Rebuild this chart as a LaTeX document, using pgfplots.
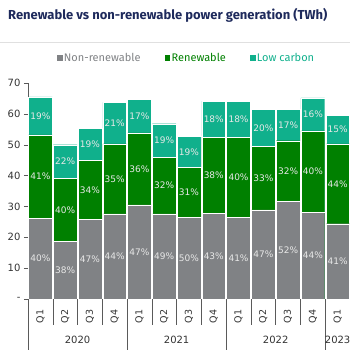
\documentclass[border=0pt]{standalone}
\usepackage{pgfplots}
\usepackage{pgfplotstable}
\pgfplotsset{compat=1.18}
\usepackage{fontspec}
\setmainfont{DejaVu Sans}
\newfontfamily\firafont{Fira Sans}
\definecolor{nonren}{RGB}{128,130,133}
\definecolor{ren}{RGB}{0,128,0}
\definecolor{lowc}{RGB}{16,176,140}
\definecolor{navy}{RGB}{30,42,92}
\definecolor{lbl}{RGB}{232,232,232}
\definecolor{sep}{RGB}{90,90,90}

\pgfplotstableread{
x nr re lc pnr pre plc
0 26.2 27.0 12.3 40 41 19
1 18.6 20.4 11.0 38 40 22
2 25.9 19.0 10.3 47 34 19
3 27.6 22.7 13.4 44 35 21
4 30.5 23.3 10.8 47 36 17
5 27.6 18.4 10.8 49 32 19
6 26.5 16.1 10.1 50 31 19
7 27.8 24.7 11.6 43 38 18
8 26.4 26.1 11.6 41 40 18
9 28.9 20.6 11.9 47 33 20
10 31.6 19.7 10.1 52 32 17
11 28.1 26.4 10.7 44 40 16
12 24.4 25.9 9.2 41 44 15
}\data

\begin{document}
\begin{tikzpicture}[x=1pt,y=1pt]
\path[use as bounding box] (0,0) rectangle (350,350);
\node[anchor=west, font=\firafont\bfseries\fontsize{13}{15}\selectfont, text=navy, inner sep=0pt] at (8,335) {Renewable vs non-renewable power generation (TWh)};
\draw[black!12, line width=0.8pt] (0,308) -- (350,308);
\begin{axis}[
  at={(28pt,51pt)}, anchor=south west, scale only axis,
  width=322pt, height=216pt,
  xmin=-0.5, xmax=12.5, ymin=0, ymax=70,
  clip=false,
  axis x line=bottom, axis y line=left,
  axis line style={-, sep},
  ytick={0,10,...,70}, yticklabels={-,10,20,30,40,50,60,70},
  tick align=outside, major tick length=4pt,
  ytick style={sep},
  yticklabel style={font=\fontsize{10}{12}\selectfont, text=black!80},
  xtick={0,...,12},
  xticklabels={Q1,Q2,Q3,Q4,Q1,Q2,Q3,Q4,Q1,Q2,Q3,Q4,Q1},
  xtick style={draw=none},
  xticklabel shift=3pt,
  xticklabel style={rotate=90, anchor=east, font=\fontsize{9.5}{11}\selectfont, text=black!80},
  legend style={at={(0.08,1.116)}, anchor=west, draw=none, fill=none,
    legend columns=3, font=\firafont\fontsize{11}{13}\selectfont,
    /tikz/every even column/.append style={column sep=22pt}},
  legend cell align=left,
]
\addlegendimage{legend image code/.code={\fill[nonren] (0pt,-2.3pt) rectangle (4.6pt,2.3pt);}}
\addlegendentry{\textcolor{nonren}{Non-renewable}}
\addlegendimage{legend image code/.code={\fill[ren] (0pt,-2.3pt) rectangle (4.6pt,2.3pt);}}
\addlegendentry{\textcolor{ren}{Renewable}}
\addlegendimage{legend image code/.code={\fill[lowc] (0pt,-2.3pt) rectangle (4.6pt,2.3pt);}}
\addlegendentry{\textcolor{lowc}{Low carbon}}

\addplot[ybar, bar width=0.96, bar shift=0pt, fill=lowc, draw=white, line width=0.4pt, forget plot]
  table[x=x, y expr=\thisrow{nr}+\thisrow{re}+\thisrow{lc}]{\data};
\addplot[ybar, bar width=0.96, bar shift=0pt, fill=ren, draw=white, line width=0.4pt, forget plot]
  table[x=x, y expr=\thisrow{nr}+\thisrow{re}]{\data};
\addplot[ybar, bar width=0.96, bar shift=0pt, fill=nonren, draw=white, line width=0.4pt, forget plot]
  table[x=x, y=nr]{\data};

\addplot[only marks, mark size=0pt, forget plot, point meta=explicit symbolic,
  nodes near coords={\pgfplotspointmeta\%},
  every node near coord/.append style={anchor=center, font=\fontsize{9}{11}\selectfont, text=lbl}]
  table[x=x, y expr=\thisrow{nr}/2, meta=pnr]{\data};
\addplot[only marks, mark size=0pt, forget plot, point meta=explicit symbolic,
  nodes near coords={\pgfplotspointmeta\%},
  every node near coord/.append style={anchor=center, font=\fontsize{9}{11}\selectfont, text=lbl}]
  table[x=x, y expr=\thisrow{nr}+\thisrow{re}/2, meta=pre]{\data};
\addplot[only marks, mark size=0pt, forget plot, point meta=explicit symbolic,
  nodes near coords={\pgfplotspointmeta\%},
  every node near coord/.append style={anchor=center, font=\fontsize{9}{11}\selectfont, text=lbl}]
  table[x=x, y expr=\thisrow{nr}+\thisrow{re}+\thisrow{lc}/2, meta=plc]{\data};

\pgfplotsinvokeforeach{0.5,1.5,2.5,4.5,5.5,6.5,8.5,9.5,10.5}{
  \draw[sep, line width=0.5pt] (axis cs:#1,0) -- ([yshift=-26pt]axis cs:#1,0);
}
\pgfplotsinvokeforeach{-0.5,3.5,7.5,11.5}{
  \draw[sep, line width=0.5pt] (axis cs:#1,0) -- ([yshift=-51pt]axis cs:#1,0);
}
\node[font=\fontsize{10}{12}\selectfont, text=black!80] at ([yshift=-41pt]axis cs:1.5,0) {2020};
\node[font=\fontsize{10}{12}\selectfont, text=black!80] at ([yshift=-41pt]axis cs:5.5,0) {2021};
\node[font=\fontsize{10}{12}\selectfont, text=black!80] at ([yshift=-41pt]axis cs:9.5,0) {2022};
\node[font=\fontsize{10}{12}\selectfont, text=black!80] at ([yshift=-41pt]axis cs:12,0) {2023};
\end{axis}
\end{tikzpicture}
\end{document}
